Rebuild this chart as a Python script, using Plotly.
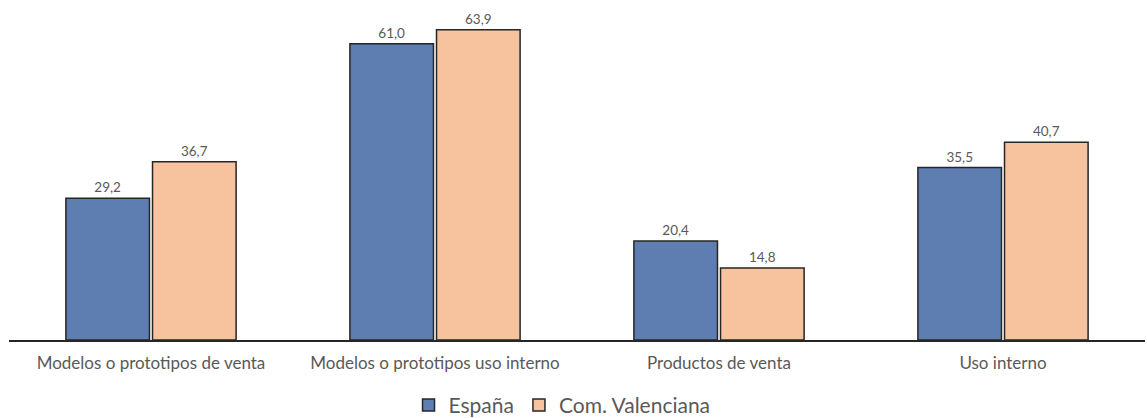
import plotly.graph_objects as go

categories = ["Modelos o prototipos de venta", "Modelos o prototipos uso interno", "Productos de venta", "Uso interno"]
espana = [29.2, 61.0, 20.4, 35.5]
valenciana = [36.7, 63.9, 14.8, 40.7]
series_names = ["España", "Com. Valenciana"]

def fmt(v):
    return f"{v:.1f}".replace(".", ",")

fig = go.Figure()
fig.add_trace(go.Bar(x=categories, y=espana, name=series_names[0],
                     marker=dict(color="#5E7DB0", line=dict(color="#262626", width=1.5)),
                     text=[fmt(v) for v in espana], textposition="outside",
                     textfont=dict(size=13.5, color="#595959"), cliponaxis=False))
fig.add_trace(go.Bar(x=categories, y=valenciana, name=series_names[1],
                     marker=dict(color="#F7C39E", line=dict(color="#262626", width=1.5)),
                     text=[fmt(v) for v in valenciana], textposition="outside",
                     textfont=dict(size=13.5, color="#595959"), cliponaxis=False))

fig.update_layout(
    width=1147, height=418,
    margin=dict(l=9, r=2, t=0, b=78, autoexpand=False),
    paper_bgcolor="white", plot_bgcolor="white",
    font=dict(family="Lato, Carlito, Calibri, sans-serif", color="#595959"),
    barmode="group", bargap=0.39, bargroupgap=0.035,
    showlegend=True,
    legend=dict(orientation="h", xref="container", yref="container",
                x=0.49, xanchor="center", y=0.03, yanchor="middle",
                font=dict(size=21, color="#595959"), itemwidth=30),
    xaxis=dict(showline=True, linecolor="#262626", linewidth=1.5, ticks="",
               automargin=False,
               tickfont=dict(size=17, color="#595959"), ticklabelstandoff=7),
    yaxis=dict(range=[0, 70], visible=False, showgrid=False, automargin=False),
)
fig.write_html("out.html", config={"displayModeBar": False},
               post_script="document.body.style.margin='0';")
